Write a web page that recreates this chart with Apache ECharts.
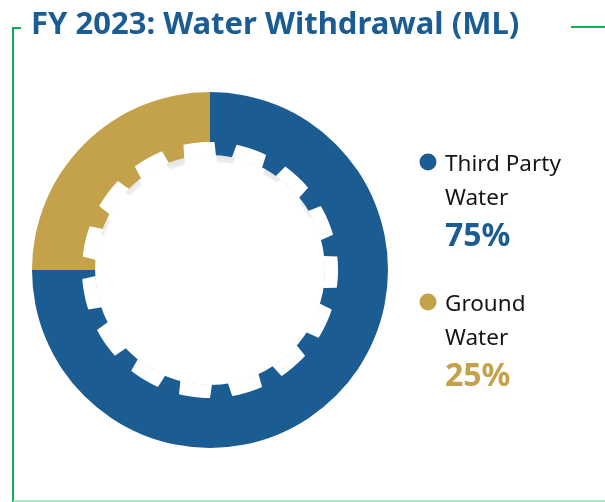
<!DOCTYPE html>
<html>
<head>
<meta charset="utf-8">
<script src="https://cdn.jsdelivr.net/npm/echarts@6/dist/echarts.min.js"></script>
<style>
html,body{margin:0;padding:0;background:#fff;}
#chart{width:605px;height:502px;}
</style>
</head>
<body>
<div id="chart"></div>
<script>
// ---- data ----
const titleText = 'FY 2023: Water Withdrawal (ML)';
const categories = ['Third Party Water', 'Ground Water'];
const legendLines = [['Third Party', 'Water'], ['Ground', 'Water']];
const values = [75, 25];
const colors = ['#1b5c93', '#c4a24b'];

// ---- layout constants ----
const CX = 210, CY = 270, R_OUT = 178, R_IN = 115, R_GEAR = 128;
const TEETH = 15, TOOTH_OFFSET = 7;
const step = 360 / TEETH;

function pt(r, deg, dx, dy) {
  const a = deg * Math.PI / 180;
  return [CX + (dx || 0) + r * Math.sin(a), CY + (dy || 0) - r * Math.cos(a)];
}

// full gear outline (the hole), optionally offset
function gearPoints(dx, dy) {
  const pts = [];
  for (let k = 0; k < TEETH; k++) {
    const a = TOOTH_OFFSET + step * k;
    pts.push(pt(R_GEAR, a - 5, dx, dy));
    pts.push(pt(R_IN, a - 4, dx, dy));
    pts.push(pt(R_IN, a, dx, dy));
    pts.push(pt(R_IN, a + 4, dx, dy));
    pts.push(pt(R_GEAR, a + 5, dx, dy));
    for (let d = a + 7; d < a + step - 5; d += 2) pts.push(pt(R_GEAR, d, dx, dy));
  }
  return pts;
}

const graphics = [];

// inner shadow: gray base + offset white gear with soft edge
graphics.push({
  type: 'circle', z: 0, silent: true,
  shape: { cx: CX, cy: CY, r: R_GEAR + 2 },
  style: { fill: '#d0d0d0' }
});
graphics.push({
  type: 'polygon', z: 1, silent: true,
  shape: { points: gearPoints(1, 7) },
  style: { fill: '#ffffff', shadowBlur: 22, shadowColor: '#ffffff' }
});

// white notches between the teeth (on top of the ring)
for (let k = 0; k < TEETH; k++) {
  const a = TOOTH_OFFSET + step * k;
  const b = a + step;
  const pts = [];
  pts.push(pt(R_IN - 0.5, a + 4));
  pts.push(pt(R_GEAR, a + 5));
  for (let d = a + 7; d < b - 5; d += 2) pts.push(pt(R_GEAR, d));
  pts.push(pt(R_GEAR, b - 5));
  pts.push(pt(R_IN - 0.5, b - 4));
  for (let d = b - 6; d > a + 4; d -= 2) pts.push(pt(R_IN - 0.5, d));
  graphics.push({
    type: 'polygon', z: 10, silent: true,
    shape: { points: pts },
    style: { fill: '#ffffff' }
  });
}

// frame lines
const green = '#14ad57';
graphics.push({ type: 'line', z: 20, shape: { x1: 13, y1: 27, x2: 13, y2: 502 }, style: { stroke: green, lineWidth: 2 } });
graphics.push({ type: 'line', z: 20, shape: { x1: 12, y1: 28, x2: 21, y2: 28 }, style: { stroke: green, lineWidth: 2 } });
graphics.push({ type: 'line', z: 20, shape: { x1: 571, y1: 27, x2: 605, y2: 27 }, style: { stroke: green, lineWidth: 2 } });
graphics.push({ type: 'line', z: 20, shape: { x1: 13, y1: 501, x2: 605, y2: 501 }, style: { stroke: '#8fdcaa', lineWidth: 1.5 } });

// custom legend
const LX = 428, LY0 = 163, LGAP = 140;
categories.forEach((c, i) => {
  const y = LY0 + i * LGAP;
  graphics.push({ type: 'circle', z: 20, shape: { cx: LX, cy: y - 1, r: 8.5 }, style: { fill: colors[i] } });
  legendLines[i].forEach((line, j) => {
    graphics.push({
      type: 'text', z: 20, x: 445, y: y + 2 + j * 34,
      style: { text: line, fill: '#151515', font: '22.5px "Noto Sans"', textVerticalAlign: 'middle' }
    });
  });
  graphics.push({
    type: 'text', z: 20, x: 445, y: y + 74,
    style: { text: values[i] + '%', fill: colors[i], font: 'bold 32px "Noto Sans"', textVerticalAlign: 'middle' }
  });
});

const chart = echarts.init(document.getElementById('chart'), null, { renderer: 'canvas' });
chart.setOption({
  animation: false,
  backgroundColor: '#ffffff',
  title: {
    text: titleText, left: 31, top: 10, padding: 0,
    textStyle: { fontFamily: 'Noto Sans', fontWeight: 'bold', fontSize: 31, color: '#1b5c93' }
  },
  series: [{
    type: 'pie',
    z: 5,
    center: [CX, CY],
    radius: [R_IN, R_OUT],
    startAngle: 90,
    clockwise: true,
    silent: true,
    label: { show: false },
    labelLine: { show: false },
    emphasis: { disabled: true },
    itemStyle: { borderWidth: 0 },
    data: categories.map((c, i) => ({ name: c, value: values[i], itemStyle: { color: colors[i] } }))
  }],
  graphic: { elements: graphics }
});
</script>
</body>
</html>
